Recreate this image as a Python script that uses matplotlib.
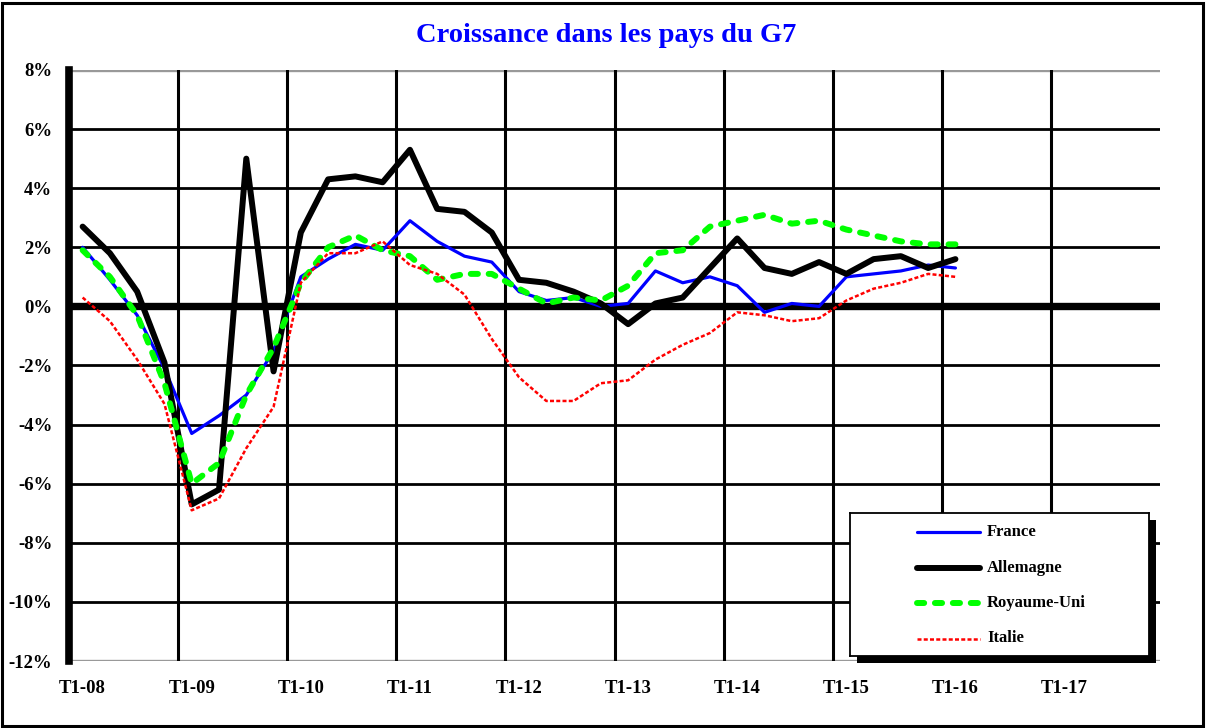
import numpy as np
import matplotlib
matplotlib.use("Agg")
import matplotlib.pyplot as plt
from matplotlib.patches import Rectangle
from matplotlib.lines import Line2D

# quarterly growth (y/y, %) from T1-08 to T1-16
france = [2.0, 0.9, -0.3, -2.1, -4.3, -3.7, -3.0, -1.5, 1.0, 1.6, 2.1, 1.9, 2.9, 2.2, 1.7, 1.5, 0.5,
          0.2, 0.3, 0.0, 0.1, 1.2, 0.8, 1.0, 0.7, -0.2, 0.1, 0.0, 1.0, 1.1, 1.2, 1.4, 1.3]
allemagne = [2.7, 1.8, 0.5, -1.9, -6.7, -6.2, 5.0, -2.2, 2.5, 4.3, 4.4, 4.2, 5.3, 3.3, 3.2, 2.5, 0.9,
             0.8, 0.5, 0.1, -0.6, 0.1, 0.3, 1.3, 2.3, 1.3, 1.1, 1.5, 1.1, 1.6, 1.7, 1.3, 1.6]
royaume_uni = [1.9, 1.0, -0.3, -2.6, -6.0, -5.3, -3.0, -1.4, 0.8, 2.0, 2.4, 1.9, 1.7, 0.9, 1.1, 1.1, 0.6,
               0.1, 0.3, 0.2, 0.7, 1.8, 1.9, 2.7, 2.9, 3.1, 2.8, 2.9, 2.6, 2.4, 2.2, 2.1, 2.1]
italie = [0.3, -0.5, -1.8, -3.3, -6.9, -6.5, -4.8, -3.4, 0.8, 1.8, 1.8, 2.2, 1.4, 1.1, 0.4, -1.1, -2.4,
          -3.2, -3.2, -2.6, -2.5, -1.8, -1.3, -0.9, -0.2, -0.3, -0.5, -0.4, 0.2, 0.6, 0.8, 1.1, 1.0]

years = ["08", "09", "10", "11", "12", "13", "14", "15", "16", "17"]
x_labels = ["T1-" + y for y in years]
n_quarters = 4 * len(years)  # category axis runs to T4-17
y_ticks = list(range(-12, 9, 2))

series = [
    ("France", france, dict(color="#0000ff", lw=2.3)),
    ("Allemagne", allemagne, dict(color="black", lw=4.3)),
    ("Royaume-Uni", royaume_uni, dict(color="#00ff00", lw=4.3, dashes=(1.2, 1.8),
                                      dash_capstyle="round")),
    ("Italie", italie, dict(color="#ff0000", lw=1.8, dashes=(1.6, 0.9))),
]

W, H = 1207, 728
fig = plt.figure(figsize=(W / 100, H / 100), dpi=100)
serif = "Liberation Serif"

def px(x0, y0, x1, y1):
    # pixel box (top-left origin) -> figure fraction rect
    return [x0 / W, 1 - y1 / H, (x1 - x0) / W, (y1 - y0) / H]

# outer frame
fig.add_artist(Rectangle((2 / W, 2 / H), 1201 / W, 723 / H, transform=fig.transFigure,
                         fill=False, ec="black", lw=2.2))

fig.text(606 / W, 1 - 35 / H, "Croissance dans les pays du G7", ha="center", va="center",
         color="#0000ff", fontsize=20.5, fontweight="bold", family=serif)

ax = fig.add_axes(px(69, 70, 1160, 661))
ax.set_xlim(0, n_quarters)
ax.set_ylim(-12, 8)

for v in y_ticks:
    if v in (8, -12):
        ax.axhline(v, color="#999999", lw=2.4, zorder=1)
    elif v == 0:
        ax.axhline(v, color="black", lw=5.3, zorder=1)
    else:
        ax.axhline(v, color="black", lw=2.0, zorder=1)
for k in range(1, len(years)):
    ax.axvline(4 * k, color="black", lw=2.2, zorder=1)

xq = np.arange(len(france)) + 0.5
for name, vals, style in series:
    ax.plot(xq, vals, label=name, zorder=3, solid_capstyle="round", **style)

for s in ["top", "right", "bottom"]:
    ax.spines[s].set_visible(False)
ax.spines["left"].set_linewidth(5.5)
ax.spines["left"].set_zorder(4)

ax.set_yticks(y_ticks)
ax.set_yticklabels(["%d%%" % v for v in y_ticks])
ax.set_xticks(np.arange(len(years)) * 4 + 0.5)
ax.set_xticklabels(x_labels)
ax.tick_params(length=0, labelsize=13.5, pad=14)
ax.tick_params(axis="y", pad=12)
for t in ax.get_xticklabels() + ax.get_yticklabels():
    t.set_fontfamily(serif)
    t.set_fontweight("bold")

# legend box with black shadow
lx0, ly0, lx1, ly1 = 850, 513, 1149, 656
fig.add_artist(Rectangle(((lx0 + 7) / W, 1 - (ly1 + 7) / H), (lx1 - lx0) / W, (ly1 - ly0) / H,
                         transform=fig.transFigure, fc="black", ec="none", zorder=5))
lax = fig.add_axes(px(lx0, ly0, lx1, ly1), zorder=6)
lax.set_xlim(0, lx1 - lx0)
lax.set_ylim(ly1 - ly0, 0)
lax.set_xticks([])
lax.set_yticks([])
for s in lax.spines.values():
    s.set_linewidth(1.3)
for i, (name, vals, style) in enumerate(series):
    yy = 19 + 35.5 * i
    lax.add_line(Line2D([67, 130], [yy, yy], solid_capstyle="round", **style))
    lax.text(137, yy, name, va="center", ha="left", fontsize=12, fontweight="bold", family=serif)

fig.savefig("out.png", dpi=100)
